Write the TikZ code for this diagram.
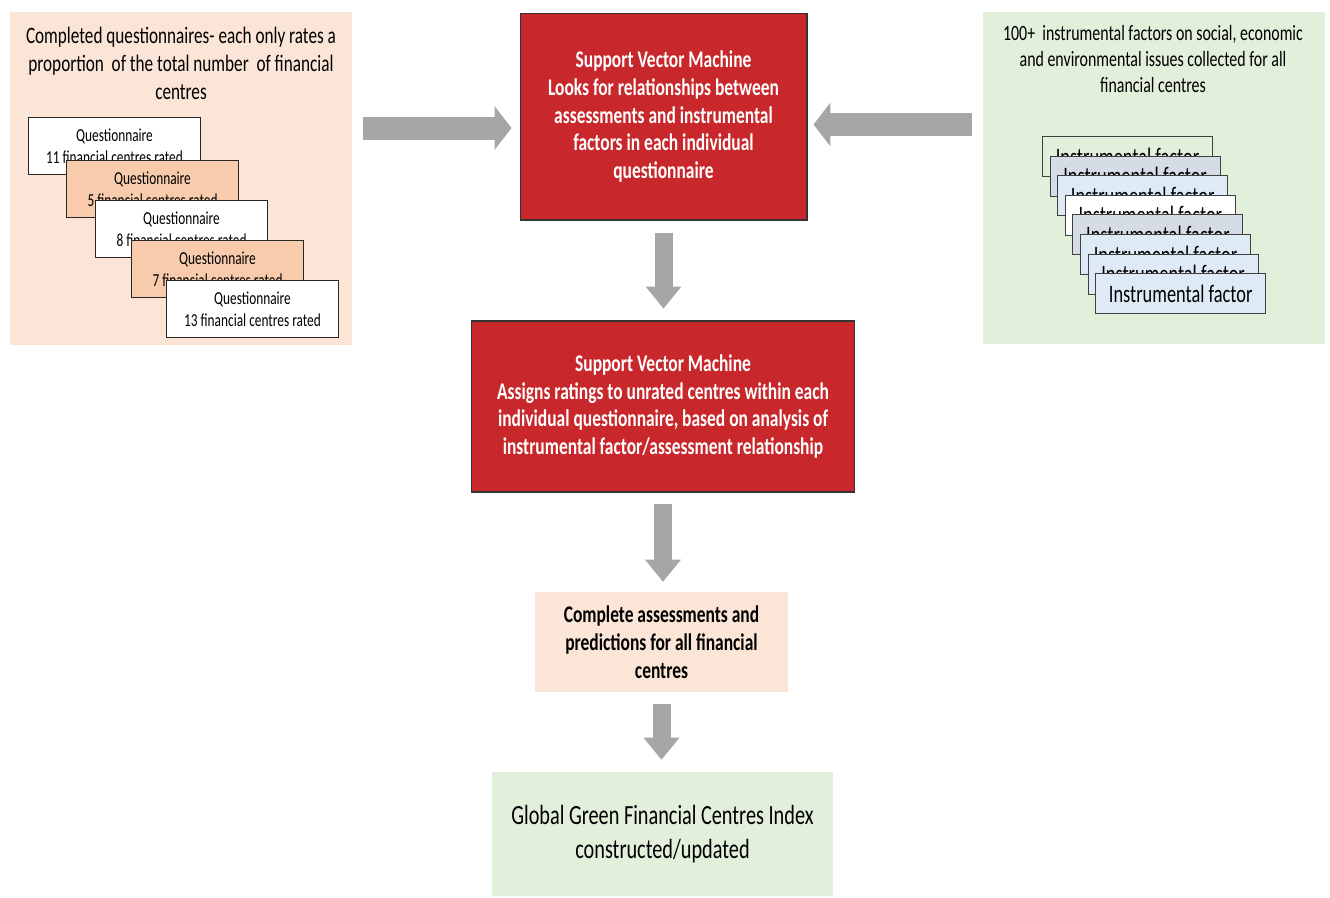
\documentclass[tikz,border=0pt]{standalone}
\usepackage{fontspec}
\setmainfont[FakeStretch=0.73]{Carlito}
\usetikzlibrary{arrows.meta}
\definecolor{peachbg}{HTML}{FBE5D6}
\definecolor{peachcard}{HTML}{F8CBAD}
\definecolor{greenbg}{HTML}{E2EFDA}
\definecolor{svmred}{HTML}{C8282B}
\definecolor{arrowgrey}{HTML}{A6A6A6}
\definecolor{greycard}{HTML}{D6DCE5}
\definecolor{bluecard}{HTML}{DEEBF7}

\begin{document}
\begin{tikzpicture}[x=0.02cm, y=-0.02cm,
    qcard/.style={draw=black!85, line width=0.6pt, minimum width=3.44cm, minimum height=1.14cm,
        anchor=north west, align=center, font=\fontsize{10.4}{12.5}\selectfont},
    fcard/.style={draw=black!75, line width=0.6pt, minimum width=3.4cm, minimum height=0.8cm,
        anchor=north west, font=\fontsize{14.3}{16}\selectfont},
    svmbox/.style={draw=black!80, line width=0.6pt, fill=svmred, text=white, align=center,
        font=\bfseries\fontsize{13.6}{15.9}\selectfont},
    sidearrow/.style={draw=arrowgrey, line width=0.46cm,
        -{Triangle[width=0.88cm, length=0.34cm, line width=0pt]}},
    downarrow/.style={draw=arrowgrey, line width=0.36cm,
        -{Triangle[width=0.72cm, length=0.44cm, line width=0pt]}}
]
\useasboundingbox (0,0) rectangle (1330,897);

% questionnaires
\node[fill=peachbg, minimum width=6.84cm, minimum height=6.66cm] (qpanel) at (181,178.5) {};
\node[align=center, font=\fontsize{13.4}{15.9}\selectfont] (qtitle) at (181,63)
    {Completed questionnaires- each only rates a\\proportion\ \ of the total number\ \ of financial\\centres};
\foreach \cx/\cy/\rated/\cfill [count=\i] in {28/117/11/white, 66/160/5/peachcard,
        95/200/8/white, 131/240/7/peachcard, 166/280/13/white}
    \node[qcard, fill=\cfill] (q\i) at (\cx,\cy) {Questionnaire\\\rated{} financial centres rated};

% instrumental factors
\node[fill=greenbg, minimum width=6.84cm, minimum height=6.64cm] (fpanel) at (1154,178) {};
\node[align=center, font=\fontsize{12.4}{14.7}\selectfont] (ftitle) at (1153,59)
    {100+\ \ instrumental factors on social, economic\\and environmental issues collected for all\\financial centres};
\foreach \cfill [count=\i from 0] in {greenbg, greycard, bluecard, white, greycard, bluecard, bluecard, bluecard}
    \node[fcard, fill=\cfill] (f\i) at ({1042+7.6*\i},{136+19.6*\i}) {Instrumental factor};

% support vector machine
\node[svmbox, minimum width=5.74cm, minimum height=4.14cm] (svm1) at (663.5,116.5)
    {Support Vector Machine\\Looks for relationships between\\assessments and instrumental\\factors in each individual\\questionnaire};
\node[svmbox, minimum width=7.68cm, minimum height=3.42cm] (svm2) at (663,406.5)
    {Support Vector Machine\\Assigns ratings to unrated centres within each\\individual questionnaire, based on analysis of\\instrumental factor/assessment relationship};
\node[fill=peachbg, minimum width=5.06cm, minimum height=2cm, align=center,
    font=\bfseries\fontsize{13.6}{15.9}\selectfont] (complete) at (661.5,642)
    {Complete assessments and\\predictions for all financial\\centres};
\node[fill=greenbg, minimum width=6.82cm, minimum height=2.48cm, align=center,
    font=\fontsize{15.8}{19.3}\selectfont] (ggfci) at (662.5,834)
    {Global Green Financial Centres Index\\constructed/updated};

% arrows
\coordinate (lrow) at (0,128);
\coordinate (rrow) at (0,124.5);
\draw[sidearrow, shorten <=0.22cm, shorten >=0.16cm] (qpanel.east |- lrow) -- (svm1.west |- lrow);
\draw[sidearrow, shorten <=0.22cm, shorten >=0.12cm] (fpanel.west |- rrow) -- (svm1.east |- rrow);
\draw[downarrow, shorten <=0.24cm, shorten >=0.24cm] (svm1.south) -- (svm1.south |- svm2.north);
\draw[downarrow, shorten <=0.22cm, shorten >=0.2cm] (svm2.south) -- (svm2.south |- complete.north);
\draw[downarrow, shorten <=0.24cm, shorten >=0.24cm] (complete.south) -- (complete.south |- ggfci.north);
\end{tikzpicture}
\end{document}
